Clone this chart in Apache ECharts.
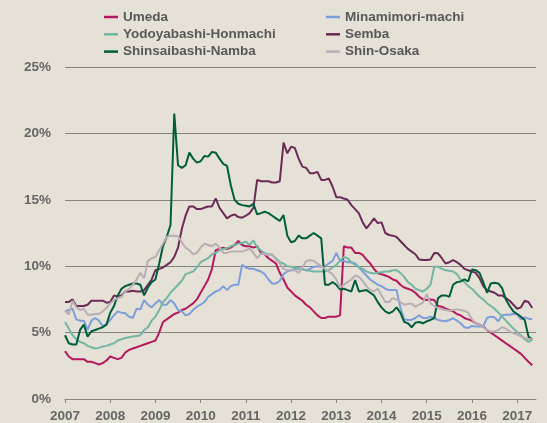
<!DOCTYPE html>
<html>
<head>
<meta charset="utf-8">
<title>Osaka vacancy</title>
<script src="https://cdn.jsdelivr.net/npm/echarts@6/dist/echarts.min.js"></script>
<style>
  html, body { margin: 0; padding: 0; background: #e6e1d6; }
  #main { width: 547px; height: 423px; }
</style>
</head>
<body>
<div id="main"></div>
<script>
// tick years, monthly categories Jan 2007 .. Jun 2017
var years = ['2007', '2008', '2009', '2010', '2011', '2012', '2013', '2014', '2015', '2016', '2017']
var months = []
years.forEach(function (y) {
  for (var m = 1; m <= 12; m++) {
    if (y === '2017' && m > 6) break
    months.push(y + '-' + (m < 10 ? '0' + m : m))
  }
})

// vacancy rate (%), one value per month from Jan 2007
var umeda = [
  3.6, 3.2, 3.0, 3.0, 3.0, 3.0, 2.8, 2.8, 2.7, 2.6, 2.7, 2.9,
  3.2, 3.1, 3.0, 3.1, 3.5, 3.7, 3.8, 3.9, 4.0, 4.1, 4.2, 4.3,
  4.4, 5.0, 5.8, 6.0, 6.2, 6.4, 6.5, 6.7, 6.8, 7.0, 7.2, 7.5,
  8.0, 8.5, 9.0, 9.8, 11.2, 11.3, 11.4, 11.3, 11.4, 11.6, 11.9, 11.6,
  11.5, 11.5, 11.4, 11.5, 11.0, 10.9, 10.6, 10.4, 10.2, 9.5, 9.0, 8.4,
  8.1, 7.8, 7.6, 7.4, 7.1, 6.9, 6.6, 6.3, 6.1, 6.1, 6.2, 6.2,
  6.2, 6.3, 11.5, 11.4, 11.4, 11.0, 11.0, 10.85, 10.5, 10.2, 9.8, 9.47,
  9.4, 9.3, 9.2, 9.0, 8.9, 8.6, 8.4, 8.3, 8.2, 8.0, 7.7, 7.5,
  7.45, 7.5, 7.45, 7.0, 6.95, 6.8, 6.7, 6.6, 6.4, 6.3, 6.1, 6.0,
  5.9, 5.7, 5.6, 5.45, 5.2, 5.0, 4.8, 4.6, 4.4, 4.2, 4.0, 3.8,
  3.6, 3.4, 3.1, 2.8, 2.55
]
var minamimori = [
  6.6, 6.7, 6.8, 6.0, 5.9, 5.9, 5.2, 5.9, 6.1, 5.9, 5.5, 5.6,
  5.95, 6.3, 6.6, 6.5, 6.45, 6.2, 6.1, 6.8, 6.75, 7.45, 7.1, 6.9,
  7.2, 7.45, 7.1, 7.1, 7.45, 7.2, 6.7, 6.6, 6.3, 6.4, 6.7, 6.95,
  7.1, 7.3, 7.7, 7.9, 8.1, 8.2, 8.5, 8.2, 8.5, 8.6, 8.6, 10.1,
  9.9, 9.8, 9.8, 9.7, 9.6, 9.4, 9.0, 8.7, 8.7, 8.9, 9.4, 9.6,
  9.7, 9.8, 9.85, 9.8, 9.7, 9.8, 9.95, 10.0, 9.95, 10.0, 10.2, 10.4,
  11.0, 10.4, 10.4, 10.3, 10.3, 10.2, 9.9, 9.6, 9.3, 9.0, 8.8, 8.6,
  8.5, 8.3, 8.2, 8.2, 8.2, 6.9, 6.0, 5.95, 5.95, 6.1, 6.3, 6.1,
  6.1, 6.2, 6.1, 5.95, 5.9, 5.85, 5.95, 6.08, 5.9, 5.7, 5.4, 5.35,
  5.5, 5.45, 5.45, 5.45, 6.1, 6.2, 6.15, 5.85, 6.3, 6.35, 6.35, 6.4,
  6.4, 6.0, 6.15, 6.05, 6.0
]
var yodoyabashi = [
  5.8, 5.3, 4.8, 4.5, 4.3, 4.2, 4.0, 3.9, 3.8, 3.85, 3.95, 4.0,
  4.1, 4.2, 4.4, 4.5, 4.6, 4.65, 4.7, 4.75, 4.8, 5.2, 5.4, 5.9,
  6.2, 6.7, 7.3, 7.6, 8.0, 8.3, 8.6, 8.9, 9.4, 9.5, 9.6, 9.9,
  10.3, 10.45, 10.6, 10.9, 11.0, 11.2, 11.3, 11.35, 11.5, 11.6, 11.7, 11.75,
  11.85, 11.6, 11.95, 11.4, 11.2, 10.97, 10.9, 10.85, 10.6, 10.3, 10.2, 10.0,
  9.96, 9.9, 9.8, 9.75, 9.7, 9.65, 9.6, 9.6, 9.6, 9.6, 9.7, 9.9,
  10.1, 10.4, 10.7, 10.6, 10.3, 10.1, 9.95, 9.8, 9.6, 9.5, 9.45, 9.5,
  9.55, 9.6, 9.6, 9.7, 9.7, 9.5, 9.2, 8.8, 8.6, 8.3, 8.2, 8.1,
  8.3, 8.6, 9.96, 9.96, 9.8, 9.7, 9.65, 9.6, 9.4, 9.0, 8.8, 8.5,
  8.3, 8.0, 7.7, 7.5, 7.2, 7.0, 6.8, 6.5, 6.2, 5.9, 5.6, 5.3,
  5.05, 4.8, 4.5, 4.3, 4.45
]
var semba = [
  7.3, 7.3, 7.5, 7.0, 7.0, 7.0, 7.1, 7.4, 7.4, 7.4, 7.4, 7.25,
  7.3, 7.8, 7.7, 7.8, 8.1, 8.1, 8.15, 8.1, 8.1, 8.2, 8.6, 9.0,
  9.7, 9.8, 9.9, 10.1, 10.3, 10.7, 11.4, 12.8, 13.8, 14.5, 14.5, 14.3,
  14.3, 14.4, 14.5, 14.5, 15.1, 14.4, 14.0, 13.6, 13.8, 13.9, 13.7, 13.65,
  13.8, 14.0, 14.4, 16.5, 16.4, 16.4, 16.4, 16.3, 16.3, 16.4, 19.3, 18.5,
  19.0, 18.9, 18.1, 17.5, 17.4, 17.0, 17.0, 17.1, 16.5, 16.5, 16.6, 16.0,
  15.2, 15.2, 15.1, 15.0, 14.6, 14.3, 13.98, 13.3, 12.85, 13.2, 13.6, 13.25,
  13.3, 12.5, 12.35, 12.3, 12.2, 11.9, 11.6, 11.3, 11.1, 10.9, 10.5, 10.47,
  10.47, 10.5, 11.0, 10.97, 10.6, 10.2, 10.3, 10.45, 10.3, 10.1, 9.8, 9.7,
  9.6, 9.5, 9.1, 8.5, 8.2, 8.1, 8.0, 7.8, 7.8, 7.6, 7.4, 7.1,
  6.8, 6.9, 7.4, 7.3, 6.85
]
var shinsaibashi = [
  4.8, 4.2, 4.1, 4.1, 5.2, 5.6, 4.7, 5.1, 5.2, 5.3, 5.4, 5.6,
  6.5, 7.0, 7.8, 8.3, 8.5, 8.6, 8.7, 8.7, 8.6, 7.8, 8.4, 8.8,
  9.0, 10.2, 11.5, 12.2, 13.1, 21.5, 17.6, 17.4, 17.6, 18.55, 18.1, 17.8,
  17.9, 18.3, 18.25, 18.6, 18.55, 18.1, 17.7, 17.55, 16.1, 15.0, 14.7, 14.6,
  14.55, 14.5, 14.7, 13.9, 14.0, 14.1, 14.0, 13.8, 13.6, 13.4, 13.85, 12.3,
  11.8, 11.9, 12.3, 12.1, 12.1, 12.3, 12.5, 12.3, 12.1, 8.6, 8.6, 8.8,
  8.6, 8.25, 8.3, 8.2, 8.1, 8.96, 8.1, 8.15, 8.2, 8.0, 7.8, 7.3,
  6.9, 6.6, 6.45, 6.6, 6.9, 6.5, 5.82, 5.7, 5.4, 5.75, 5.8, 5.7,
  5.85, 5.95, 6.1, 7.6, 7.8, 7.8, 7.7, 8.6, 8.8, 8.85, 9.0, 8.85,
  9.75, 9.7, 9.5, 8.8, 8.0, 8.7, 8.75, 8.7, 8.35, 7.5, 7.0, 6.6,
  6.4, 6.2, 5.95, 4.7, 4.5
]
var shinOsaka = [
  6.65, 6.35, 7.4, 6.9, 6.7, 6.8, 6.35, 6.35, 6.4, 6.4, 6.6, 6.85,
  7.2, 7.45, 7.6, 7.7, 8.1, 8.3, 8.6, 9.0, 9.5, 9.1, 10.4, 10.6,
  10.7, 11.2, 11.7, 12.2, 12.3, 12.3, 12.25, 11.8, 11.4, 11.2, 10.9, 11.0,
  11.4, 11.7, 11.6, 11.5, 11.7, 11.4, 11.0, 11.0, 11.1, 11.1, 11.1, 11.1,
  11.2, 11.35, 11.0, 10.6, 10.95, 10.9, 10.85, 10.9, 10.5, 10.2, 9.8, 9.7,
  9.7, 9.7, 9.5, 9.9, 10.4, 10.45, 10.4, 10.2, 10.0, 9.8, 9.6, 9.4,
  9.0, 8.4, 8.6, 8.8, 9.0, 9.3, 9.2, 8.9, 8.5, 8.2, 8.1, 8.3,
  7.8, 7.3, 7.3, 7.6, 7.5, 7.3, 7.1, 7.15, 7.2, 6.95, 7.1, 7.25,
  7.9, 7.2, 7.0, 6.85, 6.75, 6.7, 6.65, 6.7, 6.75, 6.7, 6.65, 6.5,
  6.0, 5.7, 5.6, 5.4, 5.2, 5.07, 5.1, 5.2, 5.4, 5.3, 5.1, 4.95,
  4.85, 4.7, 4.6, 4.5, 4.55
]
var yTicks = [0, 5, 10, 15, 20, 25]

var seriesList = [
  { name: 'Umeda', data: umeda, color: '#b5175d' },
  { name: 'Minamimori-machi', data: minamimori, color: '#7c9edb' },
  { name: 'Yodoyabashi-Honmachi', data: yodoyabashi, color: '#73b6a4' },
  { name: 'Semba', data: semba, color: '#6a2b56' },
  { name: 'Shinsaibashi-Namba', data: shinsaibashi, color: '#005d3b' },
  { name: 'Shin-Osaka', data: shinOsaka, color: '#b9aeb5' }
]

var labelFont = 'Liberation Sans, Arial, sans-serif'
var gridColor = '#86837f'

function legendCol (left, names) {
  return {
    orient: 'vertical',
    left: left,
    top: 10,
    padding: 0,
    itemGap: 3.3,
    itemWidth: 14,
    itemHeight: 2.5,
    icon: 'rect',
    data: names,
    textStyle: {
      fontFamily: labelFont,
      fontWeight: 'bold',
      fontSize: 13.5,
      lineHeight: 14,
      color: '#58585a'
    }
  }
}

var myChart = echarts.init(document.getElementById('main'))
var option = {
  backgroundColor: '#e6e1d6',
  animation: false,
  legend: [
    legendCol(104, ['Umeda', 'Yodoyabashi-Honmachi', 'Shinsaibashi-Namba']),
    legendCol(326, ['Minamimori-machi', 'Semba', 'Shin-Osaka'])
  ],
  grid: {
    left: 65,
    right: 11,
    top: 67,
    bottom: 24
  },
  xAxis: {
    type: 'category',
    boundaryGap: false,
    data: months,
    axisLine: { lineStyle: { color: gridColor, width: 1 } },
    axisTick: {
      length: 4,
      interval: function (i) { return i % 12 === 0 },
      lineStyle: { color: gridColor }
    },
    axisLabel: {
      interval: function (i) { return i % 12 === 0 },
      formatter: function (v) { return v.slice(0, 4) },
      margin: 10,
      fontFamily: labelFont,
      fontWeight: 'bold',
      fontSize: 13.5,
      color: '#666'
    },
    splitLine: { show: false }
  },
  yAxis: {
    type: 'value',
    min: yTicks[0],
    max: yTicks[yTicks.length - 1],
    interval: 5,
    axisLine: { show: false },
    axisTick: { show: false },
    axisLabel: {
      formatter: '{value}%',
      margin: 14,
      fontFamily: labelFont,
      fontWeight: 'bold',
      fontSize: 13.5,
      color: '#666'
    },
    splitLine: { lineStyle: { color: gridColor, width: 1 } }
  },
  series: seriesList.map(function (s) {
    return {
      name: s.name,
      type: 'line',
      data: s.data,
      symbol: 'none',
      color: s.color,
      lineStyle: { width: 2, color: s.color }
    }
  })
}
myChart.setOption(option)
</script>
</body>
</html>
